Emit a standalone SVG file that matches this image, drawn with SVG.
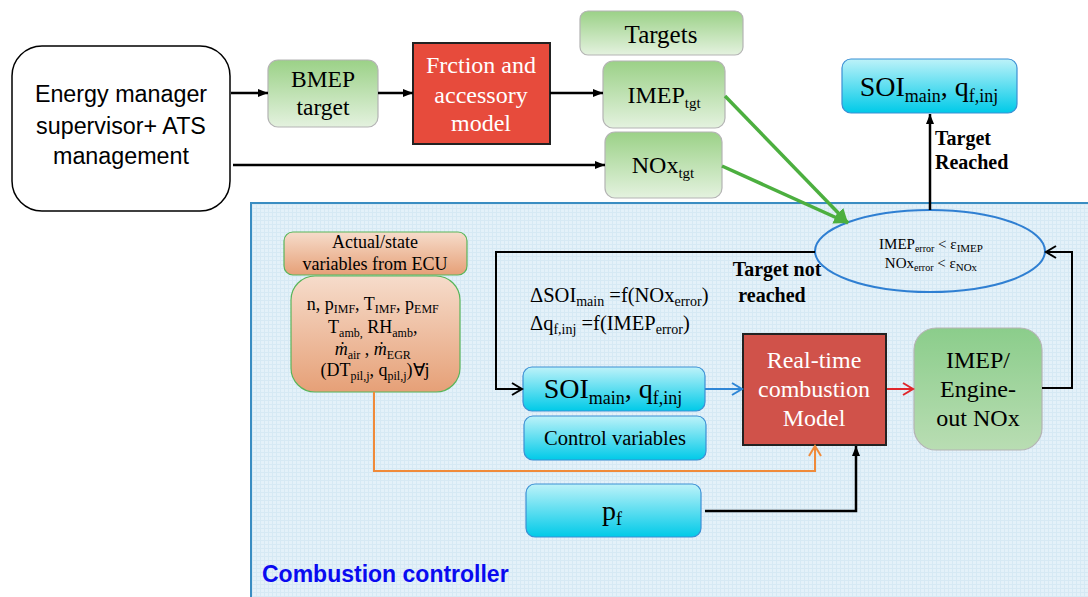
<svg xmlns="http://www.w3.org/2000/svg" width="1088" height="597" viewBox="0 0 1088 597">
<defs>
<linearGradient id="gGreen" x1="0" y1="0" x2="0" y2="1"><stop offset="0" stop-color="#9bd187"/><stop offset="1" stop-color="#e4f2df"/></linearGradient>
<linearGradient id="gGreen2" x1="0" y1="0" x2="0" y2="1"><stop offset="0" stop-color="#8bcd8b"/><stop offset="1" stop-color="#b9ddb3"/></linearGradient>
<linearGradient id="gCyan" x1="0" y1="0" x2="0" y2="1"><stop offset="0" stop-color="#bdf2f9"/><stop offset="1" stop-color="#00cae8"/></linearGradient>
<linearGradient id="gOrange" x1="0" y1="0" x2="0" y2="1"><stop offset="0" stop-color="#f6dccb"/><stop offset="1" stop-color="#e6a077"/></linearGradient>
<pattern id="grid" width="4" height="4" patternUnits="userSpaceOnUse"><rect width="4" height="4" fill="#e4f1f9"/><path d="M0,0.5 H4 M0.5,0 V4" stroke="#d6e9f4" stroke-width="1"/></pattern>
<marker id="ab" markerWidth="12" markerHeight="10" refX="10" refY="5" orient="auto" markerUnits="userSpaceOnUse"><path d="M0,1 L10,5 L0,9 z" fill="#000"/></marker>
<marker id="ag" markerWidth="16" markerHeight="14" refX="14" refY="7" orient="auto" markerUnits="userSpaceOnUse"><path d="M0,0 L14,7 L0,14 z" fill="#4caf3f"/></marker>
<marker id="ob" markerWidth="14" markerHeight="14" refX="11" refY="7" orient="auto" markerUnits="userSpaceOnUse"><path d="M1,1 L11,7 L1,13" fill="none" stroke="#000" stroke-width="2"/></marker>
<marker id="obl" markerWidth="14" markerHeight="14" refX="11" refY="7" orient="auto" markerUnits="userSpaceOnUse"><path d="M1,1 L11,7 L1,13" fill="none" stroke="#2f86d6" stroke-width="2"/></marker>
<marker id="ore" markerWidth="14" markerHeight="14" refX="11" refY="7" orient="auto" markerUnits="userSpaceOnUse"><path d="M1,1 L11,7 L1,13" fill="none" stroke="#e0262b" stroke-width="2"/></marker>
<marker id="oor" markerWidth="14" markerHeight="14" refX="11" refY="7" orient="auto" markerUnits="userSpaceOnUse"><path d="M1,1 L11,7 L1,13" fill="none" stroke="#f08a3a" stroke-width="2"/></marker>
</defs>
<style>
.sans{font-family:"Liberation Sans",Arial,sans-serif}
.serif{font-family:"Liberation Serif","Times New Roman",serif}
.gbox{fill:url(#gGreen);stroke:#b4b4b4;stroke-width:1.2}
.cbox{fill:url(#gCyan);stroke:#3b8fd4;stroke-width:1.2}
.obox{fill:url(#gOrange);stroke:#59b55a;stroke-width:1.2}
.ln{fill:none;stroke:#000;stroke-width:2.5}
.c{text-anchor:middle}
</style>
<rect width="1088" height="597" fill="#fff"/>

<g id="panel">
<rect x="251" y="203" width="840" height="400" fill="url(#grid)" stroke="#3a8dc2" stroke-width="2"/>
<text x="262" y="582" class="sans" font-size="23" font-weight="bold" fill="#0a0af0">Combustion controller</text>
</g>

<g id="energy">
<rect x="12" y="46" width="218" height="165" rx="30" fill="#fff" stroke="#000" stroke-width="1.5"/>
<text class="sans c" font-size="23.3" fill="#000"><tspan x="121" y="102">Energy manager</tspan><tspan x="121" y="134">supervisor+ ATS</tspan><tspan x="121" y="164">management</tspan></text>
</g>

<g id="bmep">
<rect x="268" y="60" width="110" height="67" rx="10" class="gbox"/>
<text class="serif c" font-size="23.5"><tspan x="323" y="87">BMEP</tspan><tspan x="323" y="115">target</tspan></text>
</g>

<g id="friction">
<rect x="413" y="43" width="137" height="101" fill="#e74b3c" stroke="#222" stroke-width="2"/>
<text class="serif c" font-size="24" fill="#fff"><tspan x="481" y="73">Frction and</tspan><tspan x="481" y="103">accessory</tspan><tspan x="481" y="131">model</tspan></text>
</g>

<g id="targets">
<rect x="580" y="11" width="163" height="44" rx="8" class="gbox"/>
<text x="661" y="43" class="serif c" font-size="25">Targets</text>
</g>

<g id="imeptgt">
<rect x="603" y="61" width="122" height="67" rx="10" class="gbox"/>
<text x="664" y="103" class="serif c" font-size="24">IMEP<tspan font-size="15" dy="5">tgt</tspan></text>
</g>

<g id="noxtgt">
<rect x="605" y="132" width="117" height="66" rx="10" class="gbox"/>
<text x="663" y="173" class="serif c" font-size="24">NOx<tspan font-size="15" dy="5">tgt</tspan></text>
</g>

<g id="soitop">
<rect x="842" y="59" width="175" height="54" rx="9" class="cbox"/>
<text x="929" y="96" class="serif c" font-size="28">SOI<tspan font-size="18" dy="6">main</tspan><tspan dy="-6">, q</tspan><tspan font-size="18" dy="6">f,inj</tspan></text>
</g>

<g id="check">
<ellipse cx="930" cy="251" rx="115" ry="41" fill="none" stroke="#2f7fd2" stroke-width="2"/>
<text class="serif c" font-size="15"><tspan x="931" y="249">IMEP<tspan font-size="10" dy="3">error</tspan><tspan dy="-3"> &lt; ε</tspan><tspan font-size="11" dy="3">IMEP</tspan></tspan><tspan x="931" y="268">NOx<tspan font-size="10" dy="3">error</tspan><tspan dy="-3"> &lt; ε</tspan><tspan font-size="11" dy="3">NOx</tspan></tspan></text>
</g>

<g id="actual">
<rect x="284" y="232" width="183" height="43" rx="9" class="obox"/>
<text class="serif c" font-size="18"><tspan x="375" y="248">Actual/state</tspan><tspan x="375" y="270">variables from ECU</tspan></text>
</g>

<g id="vars">
<rect x="291" y="276" width="169" height="116" rx="24" class="obox"/>
<text class="serif c" font-size="18">
<tspan x="375" y="310">n, p<tspan font-size="12" dy="3">IMF</tspan><tspan dy="-3">, T</tspan><tspan font-size="12" dy="3">IMF</tspan><tspan dy="-3">, p</tspan><tspan font-size="12" dy="3">EMF</tspan></tspan>
<tspan x="375" y="333">T<tspan font-size="12" dy="4">amb,</tspan><tspan dy="-4"> RH</tspan><tspan font-size="12" dy="4">amb</tspan><tspan dy="-4">,</tspan></tspan>
<tspan x="375" y="355"><tspan font-style="italic">ṁ</tspan><tspan font-size="12" dy="4">air</tspan><tspan dy="-4"> , </tspan><tspan font-style="italic">ṁ</tspan><tspan font-size="12" dy="4">EGR</tspan></tspan>
<tspan x="375" y="376">(DT<tspan font-size="12" dy="4">pil,j</tspan><tspan dy="-4">, q</tspan><tspan font-size="12" dy="4">pil,j</tspan><tspan dy="-4">)∀j</tspan></tspan>
</text>
</g>

<g id="formulas">
<text class="serif" font-size="20.5"><tspan x="530" y="302">ΔSOI<tspan font-size="14" dy="4">main</tspan><tspan dy="-4"> =f(NOx</tspan><tspan font-size="14" dy="4">error</tspan><tspan dy="-4">)</tspan></tspan><tspan x="530" y="330">Δq<tspan font-size="14" dy="4">f,inj</tspan><tspan dy="-4"> =f(IMEP</tspan><tspan font-size="14" dy="4">error</tspan><tspan dy="-4">)</tspan></tspan></text>
</g>

<g id="soi">
<rect x="523" y="367" width="182" height="44" rx="9" class="cbox"/>
<text x="613" y="398" class="serif c" font-size="28">SOI<tspan font-size="18" dy="6">main</tspan><tspan dy="-6">, q</tspan><tspan font-size="18" dy="6">f,inj</tspan></text>
</g>

<g id="control">
<rect x="524" y="416" width="182" height="44" rx="9" class="cbox"/>
<text x="615" y="445" class="serif c" font-size="20.5">Control variables</text>
</g>

<g id="pf">
<rect x="526" y="484" width="175" height="53" rx="9" class="cbox"/>
<text x="612" y="520" class="serif c" font-size="28">p<tspan font-size="18" dy="5">f</tspan></text>
</g>

<g id="rtmodel">
<rect x="743" y="334" width="143" height="111" fill="#d0524a" stroke="#222" stroke-width="2"/>
<text class="serif c" font-size="24" fill="#fff"><tspan x="814" y="368">Real-time</tspan><tspan x="814" y="397">combustion</tspan><tspan x="814" y="426">Model</tspan></text>
</g>

<g id="engine">
<rect x="914" y="328" width="128" height="122" rx="22" fill="url(#gGreen2)" stroke="#b4b4b4" stroke-width="1.2"/>
<text class="serif c" font-size="24"><tspan x="978" y="368">IMEP/</tspan><tspan x="978" y="397">Engine-</tspan><tspan x="978" y="426">out NOx</tspan></text>
</g>

<g id="connectors">
<line x1="231" y1="93" x2="268" y2="93" class="ln" marker-end="url(#ab)"/>
<line x1="378" y1="93" x2="413" y2="93" class="ln" marker-end="url(#ab)"/>
<line x1="550" y1="93" x2="603" y2="93" class="ln" marker-end="url(#ab)"/>
<line x1="233" y1="165" x2="605" y2="165" class="ln" marker-end="url(#ab)"/>
<line x1="725" y1="96" x2="848" y2="223" stroke="#4caf3f" stroke-width="3.5" marker-end="url(#ag)"/>
<line x1="722" y1="166" x2="848" y2="223" stroke="#4caf3f" stroke-width="3.5" marker-end="url(#ag)"/>
<line x1="930" y1="210" x2="930" y2="114" stroke="#000" stroke-width="2.5" marker-end="url(#ab)"/>
<polyline points="815,252 496,252 496,389 522,389" fill="none" stroke="#000" stroke-width="2" marker-end="url(#ob)"/>
<polyline points="1042,388 1072,388 1072,252 1046,252" fill="none" stroke="#000" stroke-width="2" marker-end="url(#ob)"/>
<line x1="705" y1="389" x2="742" y2="389" stroke="#2f86d6" stroke-width="2" marker-end="url(#obl)"/>
<line x1="887" y1="389" x2="913" y2="389" stroke="#e0262b" stroke-width="2" marker-end="url(#ore)"/>
<polyline points="374,392 374,471 815,471 815,446" fill="none" stroke="#f08a3a" stroke-width="2" marker-end="url(#oor)"/>
<polyline points="705,511 856,511 856,446" fill="none" stroke="#000" stroke-width="2.5" marker-end="url(#ab)"/>
<text class="serif" font-size="20" font-weight="bold"><tspan x="935" y="145">Target</tspan><tspan x="935" y="169">Reached</tspan></text>
<text class="serif c" font-size="20" font-weight="bold"><tspan x="777" y="276">Target not</tspan><tspan x="772" y="302">reached</tspan></text>
</g>
</svg>
